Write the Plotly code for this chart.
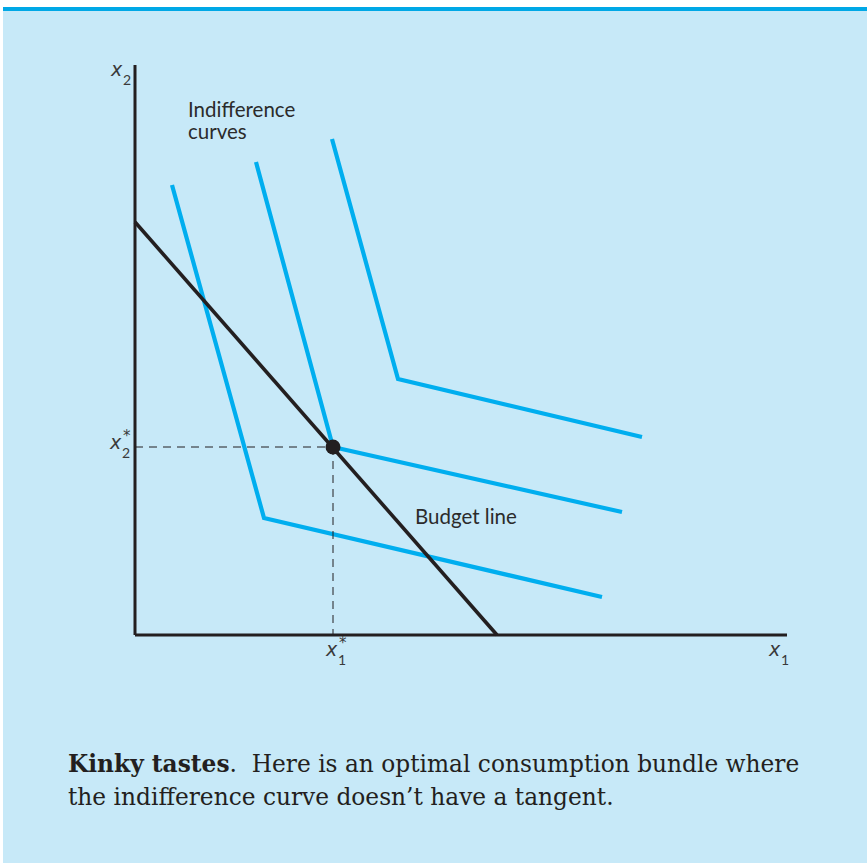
import plotly.graph_objects as go

# ---- data (economic units; origin at the axes corner) ----
axis_x_max = 13.04
axis_y_max = 11.4

budget_x = [0.0, 7.24]
budget_y = [8.26, 0.0]

x1_star = 3.96
x2_star = 3.76

ic1_x = [0.74, 2.58, 9.34]
ic1_y = [9.00, 2.34, 0.76]
ic2_x = [2.42, 3.96, 9.74]
ic2_y = [9.46, 3.76, 2.46]
ic3_x = [3.94, 5.26, 10.14]
ic3_y = [9.92, 5.12, 3.96]

W, H = 867, 863
UNIT = 50.0   # px per unit
X0, Y0 = 135, 635  # pixel origin

BLUE = "#00aeef"
DARK = "#231f20"
BG = "#c7e9f8"

fig = go.Figure()

for xs, ys in [(ic1_x, ic1_y), (ic2_x, ic2_y), (ic3_x, ic3_y)]:
    fig.add_trace(go.Scatter(x=xs, y=ys, mode="lines",
                             line=dict(color=BLUE, width=4.2), hoverinfo="skip"))

# dashed guides
fig.add_trace(go.Scatter(x=[0, x1_star], y=[x2_star, x2_star], mode="lines",
                         line=dict(color=DARK, width=1, dash="8px,6px"), hoverinfo="skip"))
fig.add_trace(go.Scatter(x=[x1_star, x1_star], y=[x2_star, 0], mode="lines",
                         line=dict(color=DARK, width=1, dash="8px,6px"), hoverinfo="skip"))

# budget line
fig.add_trace(go.Scatter(x=budget_x, y=budget_y, mode="lines",
                         line=dict(color=DARK, width=3.6), hoverinfo="skip"))

# axes
fig.add_trace(go.Scatter(x=[0, axis_x_max], y=[0, 0], mode="lines",
                         line=dict(color=DARK, width=3), hoverinfo="skip"))
fig.add_trace(go.Scatter(x=[0, 0], y=[0, axis_y_max], mode="lines",
                         line=dict(color=DARK, width=3), hoverinfo="skip"))

# optimum
fig.add_trace(go.Scatter(x=[x1_star], y=[x2_star], mode="markers",
                         marker=dict(color=DARK, size=15), hoverinfo="skip"))

lab_font = dict(family="Lato", size=20.5, color="#2b2b2b")
x_font = dict(family="DejaVu Sans", size=19, color="#3a3a3a")
sub_font = dict(family="Lato", size=14, color="#3a3a3a")
star_font = dict(family="DejaVu Sans", size=15, color="#3a3a3a")

def ax_label(x, y, sub, star):
    out = [dict(x=x, y=y, text="<i>x</i>", xanchor="center", yanchor="middle", font=x_font)]
    out.append(dict(x=x + 0.09, y=y - 0.20, text=sub, xanchor="left", yanchor="middle", font=sub_font))
    if star:
        out.append(dict(x=x + 0.12, y=y + 0.13, text="*", xanchor="left", yanchor="middle", font=star_font))
    return out

ann = []
ann += ax_label(-0.38, axis_y_max - 0.08, "2", False)
ann += ax_label(-0.40, x2_star + 0.10, "2", True)
ann += ax_label(x1_star - 0.04, -0.28, "1", True)
ann += ax_label(axis_x_max - 0.25, -0.28, "1", False)
ann += [
    dict(x=1.02, y=10.52, text="Indifference", xanchor="left", yanchor="middle", font=lab_font),
    dict(x=1.02, y=10.09, text="curves", xanchor="left", yanchor="middle", font=lab_font),
    dict(x=5.56, y=2.38, text="Budget line", xanchor="left", yanchor="middle", font=lab_font),
]

cap_font = dict(family="DejaVu Serif", size=23.3, color=DARK)
ann.append(dict(xref="paper", yref="paper", x=66 / W, y=1 - 763 / H,
                text="<b>Kinky tastes</b>.  Here is an optimal consumption bundle where",
                xanchor="left", yanchor="middle", font=cap_font, showarrow=False))
ann.append(dict(xref="paper", yref="paper", x=66 / W, y=1 - 796 / H,
                text="the indifference curve doesn\u2019t have a tangent.",
                xanchor="left", yanchor="middle", font=cap_font, showarrow=False))

for a in ann:
    a.setdefault("showarrow", False)

shapes = [
    dict(type="rect", xref="paper", yref="paper", x0=3 / W, x1=1, y0=0, y1=1 - 11 / H,
         fillcolor=BG, line=dict(width=0), layer="below"),
    dict(type="rect", xref="paper", yref="paper", x0=3 / W, x1=1, y0=1 - 11 / H, y1=1 - 7 / H,
         fillcolor="#00a8e6", line=dict(width=0), layer="below"),
]

fig.update_layout(
    width=W, height=H,
    margin=dict(l=0, r=0, t=0, b=0),
    paper_bgcolor="white", plot_bgcolor="rgba(0,0,0,0)",
    showlegend=False,
    xaxis=dict(range=[-X0 / UNIT, (W - X0) / UNIT], visible=False, fixedrange=True),
    yaxis=dict(range=[-(H - Y0) / UNIT, Y0 / UNIT], visible=False, fixedrange=True),
    annotations=ann, shapes=shapes,
)

fig.write_html("out.html", config={"displayModeBar": False},
               post_script="document.body.style.margin='0';document.body.style.padding='0';document.body.style.overflow='hidden';")
